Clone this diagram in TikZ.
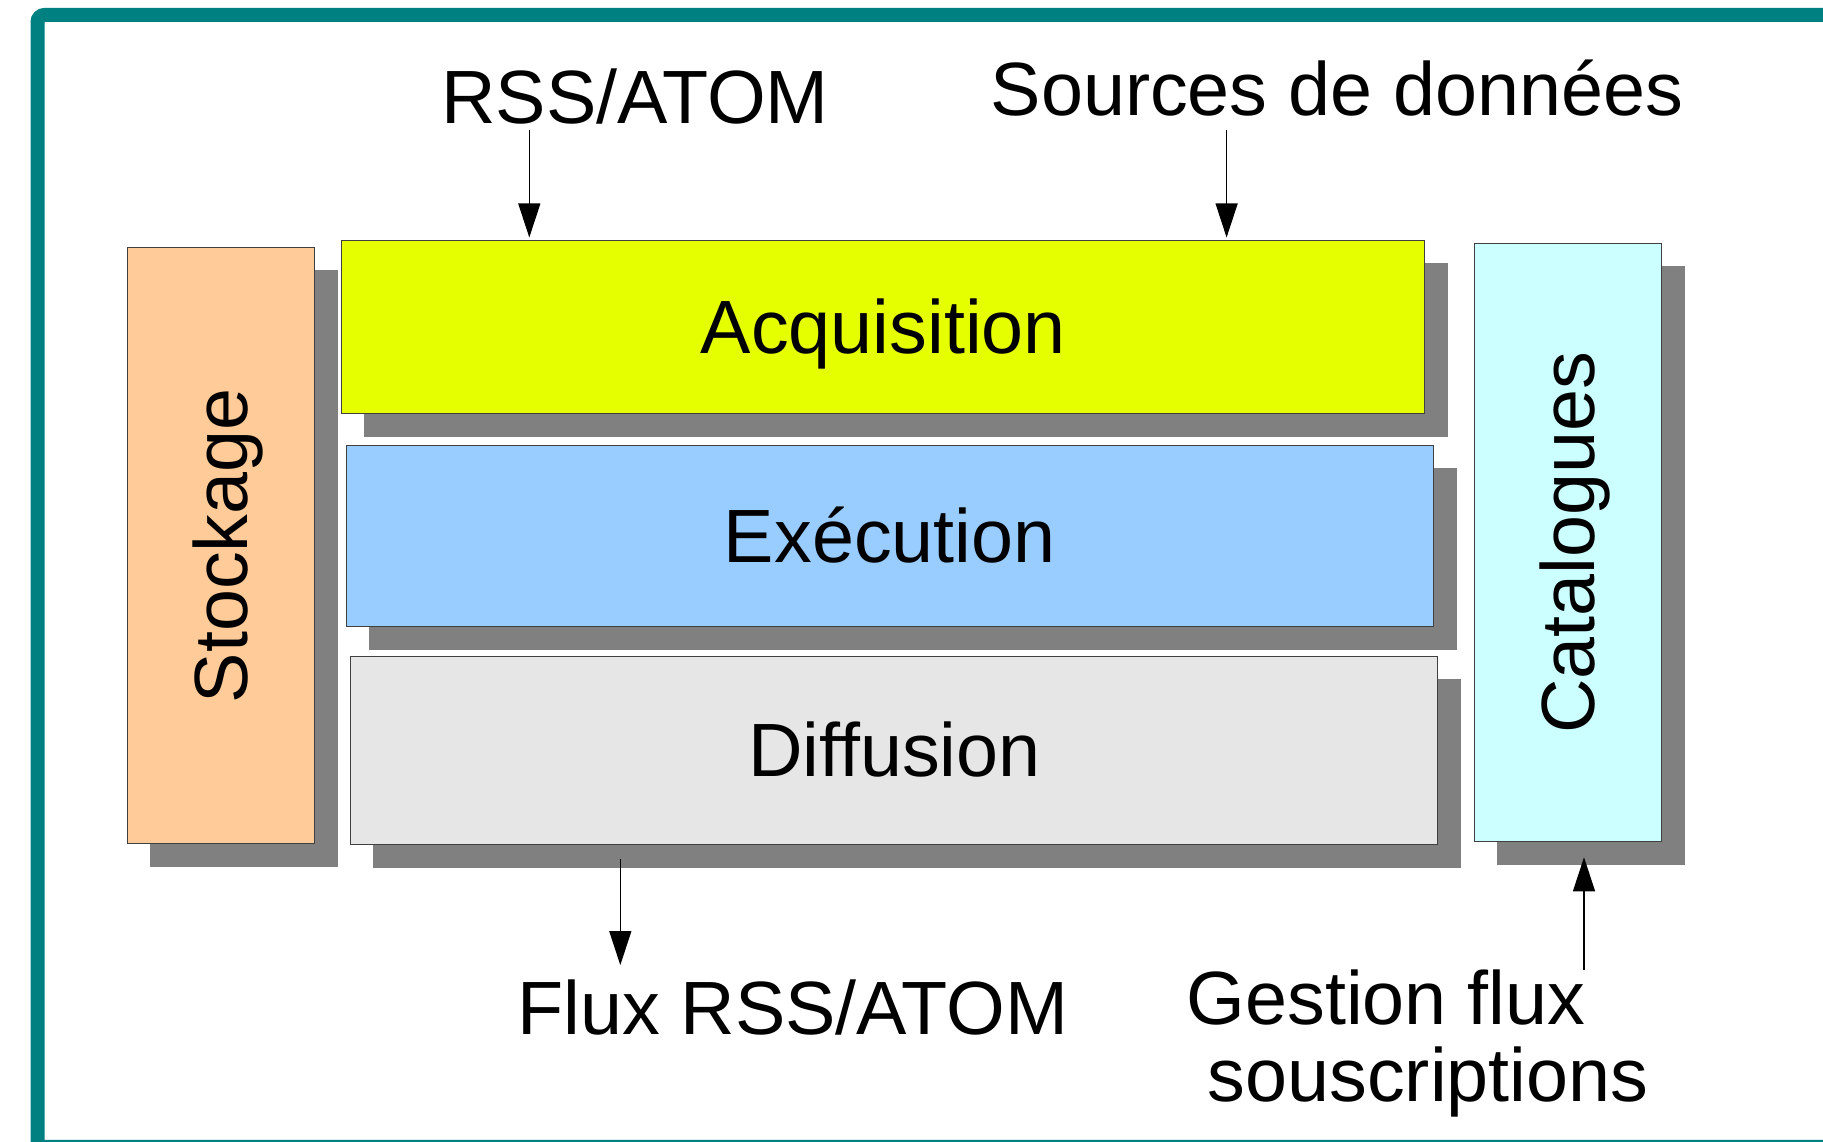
\documentclass[tikz,border=0pt]{standalone}
\usepackage{fontspec}
\setmainfont{Liberation Sans}
\usetikzlibrary{arrows.meta,backgrounds}
\definecolor{frameteal}{RGB}{0,128,128}
\definecolor{shadowgray}{RGB}{128,128,128}
\definecolor{stockorange}{RGB}{255,204,153}
\definecolor{acqyellow}{RGB}{230,255,0}
\definecolor{execblue}{RGB}{153,204,255}
\definecolor{diffgray}{RGB}{230,230,230}
\definecolor{catcyan}{RGB}{204,255,255}

\tikzset{
  layer/.style={draw=black!75, line width=1pt, inner sep=0pt, text height=68.3pt, text depth=16pt},
  caption/.style={inner sep=0pt, anchor=base},
  flow/.style={-{Triangle[length=34pt,width=22pt]}, line width=1.2pt},
}

\begin{document}
\begin{tikzpicture}[x=1pt,y=1pt, every node/.style={font=\fontsize{75.5}{77}\selectfont}]
        \useasboundingbox (0,0) rectangle (1823,1142);
        % outer frame
        \draw[frameteal, line width=14pt, rounded corners=7pt] (37.5,1127) rectangle (1860,-5);
        % layers
        \node[layer, fill=stockorange, rotate=90, minimum width=596pt, minimum height=187pt] (stock) at (221.2,596.2) {Stockage};
        \node[layer, fill=acqyellow, minimum width=1083pt, minimum height=173pt] (acq) at (883.4,814.5) {Acquisition};
        \node[layer, fill=execblue, minimum width=1087pt, minimum height=181pt] (exec) at (889.7,605.7) {Exécution};
        \node[layer, fill=diffgray, minimum width=1087pt, minimum height=188pt] (diff) at (894.4,391.5) {Diffusion};
        \node[layer, fill=catcyan, rotate=90, minimum width=598pt, minimum height=187pt] (cat) at (1568.3,599.2) {Catalogues};
        % drop shadows
        \begin{scope}[on background layer]
            \foreach \blk in {stock,acq,exec,diff,cat} {\fill[shadowgray] ([shift={(23,-23)}]\blk.south west) rectangle ([shift={(23,-23)}]\blk.north east);}
        \end{scope}
        % inputs and outputs
        \node[caption] (rss) at (635,1018.7) {RSS/ATOM};
        \node[caption] (src) at (1337,1026) {Sources de données};
        \node[caption] (flux) at (792.7,107) {Flux RSS/ATOM};
        \node[caption, anchor=north west, align=left] (subs) at (1186.5,172) {Gestion flux\\\hspace*{0.278em}souscriptions};
        \coordinate (ax1) at (529.3,0);
        \coordinate (ax2) at (1226.6,0);
        \coordinate (ax3) at (620.3,0);
        \coordinate (ax4) at (1584,0);
        \draw[flow, shorten <=7pt, shorten >=3pt] (rss.base -| ax1) -- (ax1 |- acq.north);
        \draw[flow, shorten <=14pt, shorten >=3pt] (src.base -| ax2) -- (ax2 |- acq.north);
        \draw[flow, shorten <=14pt, shorten >=15pt] (diff.south -| ax3) -- (ax3 |- flux.north);
        \draw[flow, shorten >=15pt] (subs.north -| ax4) -- (ax4 |- cat.west);
    \end{tikzpicture}
\end{document}
